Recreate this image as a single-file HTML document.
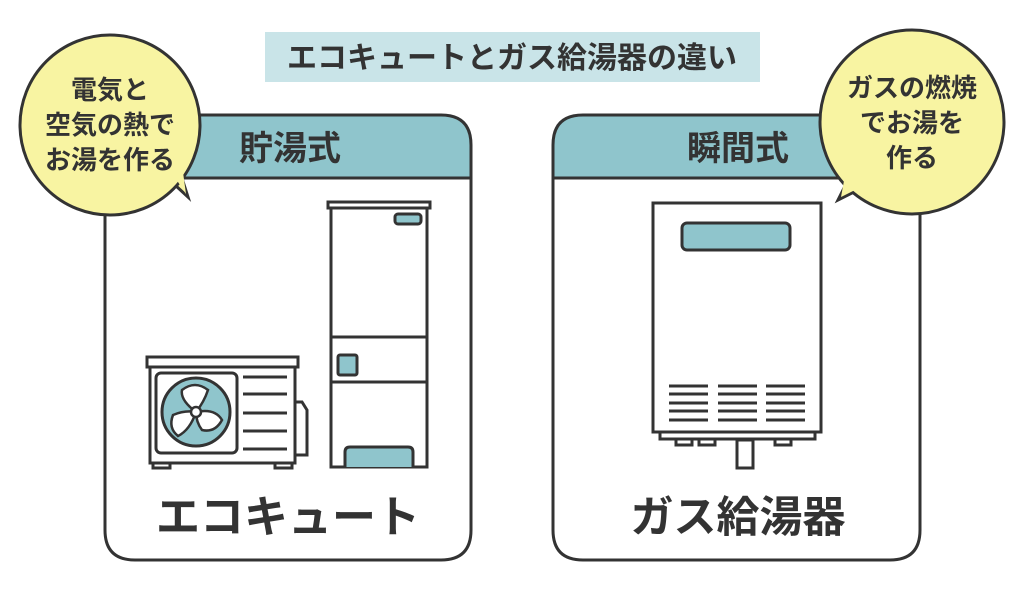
<!DOCTYPE html>
<html><head><meta charset="utf-8"><style>
html,body{margin:0;padding:0;background:#fff;}
svg{display:block;}
text{font-family:"Liberation Sans","Noto Sans CJK JP",sans-serif;font-weight:bold;fill:#333;}
</style></head><body>
<svg width="1024" height="597" viewBox="0 0 1024 597" xmlns="http://www.w3.org/2000/svg">
<rect width="1024" height="597" fill="#fff"/>
<!-- title -->
<rect x="265" y="32" width="495" height="50" fill="#c9e4e8"/>
<text x="512" y="68" font-size="30" text-anchor="middle">エコキュートとガス給湯器の違い</text>

<g stroke="#333" stroke-width="3" fill="none">
<path d="M105 178 V145 Q105 115 135 115 H441 Q471 115 471 145 V178 Z" fill="#8fc5cc"/>
<path d="M105 178 V530 Q105 560 135 560 H441 Q471 560 471 530 V178"/>
<path d="M553 178 V145 Q553 115 583 115 H890 Q920 115 920 145 V178 Z" fill="#8fc5cc"/>
<path d="M553 178 V530 Q553 560 583 560 H890 Q920 560 920 530 V178"/>
</g>
<text x="290" y="160" font-size="34" text-anchor="middle">貯湯式</text>
<text x="738" y="160" font-size="34" text-anchor="middle">瞬間式</text>

<!-- bubbles -->
<g stroke="#333" stroke-width="3" fill="#f8f4a2">
<path d="M175 185 L188 197 L180 172 Z"/>
<circle cx="110" cy="125" r="90"/>
<path d="M848 180 L838 200 L858 190 Z"/>
<circle cx="912" cy="122" r="92"/>
</g>
<path d="M170 170 L186 194 L182 165 Z" fill="#f8f4a2"/>
<path d="M846 170 L841 197 L865 185 Z" fill="#f8f4a2"/>
<g font-size="26" text-anchor="middle">
<text x="110" y="99">電気と</text>
<text x="110" y="134">空気の熱で</text>
<text x="110" y="169">お湯を作る</text>
<text x="912" y="97">ガスの燃焼</text>
<text x="912" y="132">でお湯を</text>
<text x="912" y="167">作る</text>
</g>

<g stroke="#333" stroke-width="3" fill="none">
<rect x="328" y="202" width="102" height="6" fill="#fff"/>
<rect x="331" y="208" width="96" height="259" fill="#fff"/>
<line x1="331" y1="337" x2="427" y2="337"/>
<line x1="331" y1="382" x2="427" y2="382"/>
<rect x="395" y="214" width="26" height="10" rx="3" fill="#8fc5cc"/>
<rect x="338" y="355" width="19" height="20" rx="2" fill="#8fc5cc"/>
<path d="M345 467 V452 Q345 447 350 447 H408 Q413 447 413 452 V467" fill="#8fc5cc"/>
<rect x="147" y="357" width="151" height="10" fill="#fff"/>
<rect x="150" y="367" width="145" height="96" fill="#fff"/>
<rect x="156" y="373" width="81" height="80" rx="5"/>
<path d="M295 402 H302 L307 410 V455 H295"/>
<rect x="153" y="463" width="17" height="5"/>
<rect x="275" y="463" width="17" height="5"/>
<circle cx="196" cy="412" r="34" fill="#8fc5cc"/>
<path d="M196 412 Q180 400 182 390 Q195 380 208 390 Q204 402 196 412 Z" fill="#fff" stroke-width="2.5"/>
<path d="M196 412 Q215 408 222 420 Q215 433 202 430 Q196 422 196 412 Z" fill="#fff" stroke-width="2.5"/>
<path d="M196 412 Q190 430 178 436 Q168 428 173 415 Q185 410 196 412 Z" fill="#fff" stroke-width="2.5"/>
<circle cx="196" cy="412" r="5" fill="#fff" stroke-width="2.5"/>
<line x1="243" y1="377" x2="287" y2="377"/>
<line x1="243" y1="394" x2="287" y2="394"/>
<line x1="243" y1="413" x2="287" y2="413"/>
<line x1="243" y1="431" x2="287" y2="431"/>
<line x1="243" y1="449" x2="287" y2="449"/>
<rect x="653" y="203" width="168" height="229" fill="#fff"/>
<rect x="682" y="223" width="108" height="27" rx="5" fill="#8fc5cc"/>
<rect x="660" y="432" width="155" height="7"/>
<rect x="676" y="439" width="16" height="6"/>
<rect x="699" y="439" width="16" height="6"/>
<rect x="775" y="439" width="16" height="6"/>
<rect x="737" y="440" width="16" height="28" fill="#fff"/>
</g>
<g stroke="#333" stroke-width="3">
<path d="M669 386H708M669 394H708M669 403H708M669 411H708M669 420H708"/>
<path d="M718 386H757M718 394H757M718 403H757M718 411H757M718 420H757"/>
<path d="M766 386H805M766 394H805M766 403H805M766 411H805M766 420H805"/>
</g>

<text x="288" y="532" font-size="44" text-anchor="middle">エコキュート</text>
<text x="738" y="532" font-size="43" text-anchor="middle">ガス給湯器</text>
</svg>
</body></html>
